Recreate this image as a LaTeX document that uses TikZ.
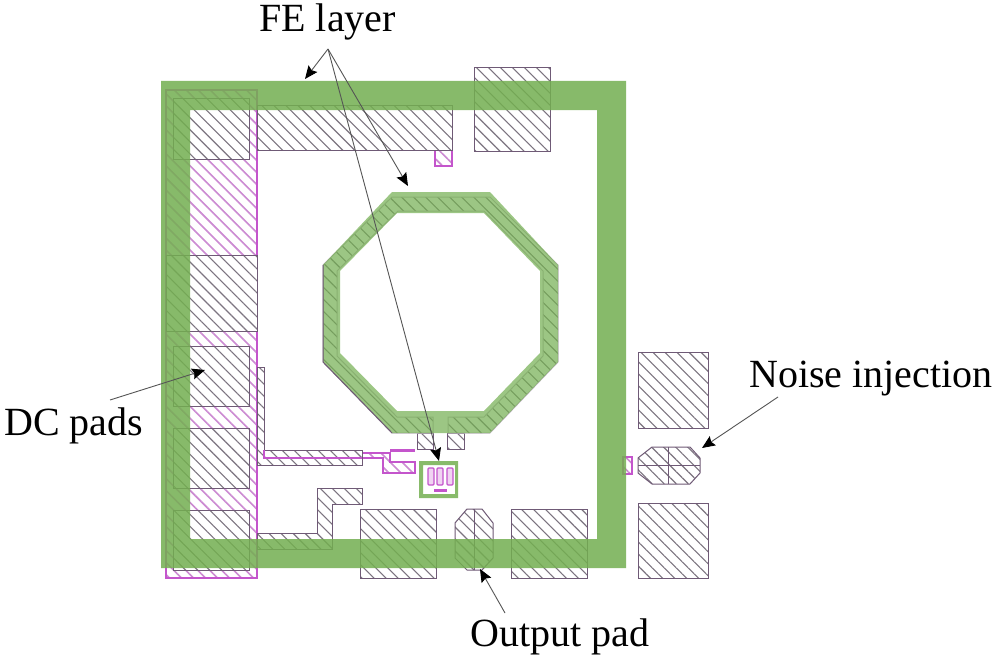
\documentclass[tikz,border=0pt]{standalone}
\usepackage{fontspec}
\setmainfont{Liberation Serif}
\usetikzlibrary{patterns.meta, arrows.meta}
\definecolor{padline}{HTML}{6F5A76}
\definecolor{padhatch}{HTML}{7C7480}
\definecolor{magline}{HTML}{C455CC}
\definecolor{maghatch}{HTML}{CC8AD2}
\definecolor{felayer}{HTML}{73AF50}
\definecolor{arrowline}{HTML}{555555}
\tikzset{x=1pt, y=-1pt,
    hatchbox/.style={draw=padline, line width=1pt, preaction={fill=white}, pattern={Lines[angle=-45, distance=8.5pt, line width=1.1pt]}, pattern color=padhatch},
    maghatchbox/.style={draw=magline, line width=1.1pt, preaction={fill=white}, pattern={Lines[angle=-45, distance=8.5pt, line width=1.6pt]}, pattern color=maghatch},
    magbox/.style={draw=magline, line width=1.2pt, fill=magline!25, rounded corners=1pt},
    frame/.style={fill=felayer, fill opacity=0.85, even odd rule},
    ring/.style={fill=felayer, fill opacity=0.7, even odd rule},
    pointer/.style={-{Stealth[length=13pt, width=11pt, inset=2pt, black]}, draw=arrowline, line width=0.9pt},
    caption/.style={anchor=base west, inner sep=0pt, font=\fontsize{40}{44}\selectfont}
}

\begin{document}
\begin{tikzpicture}
        \fill[white] (0,0) rectangle (999,661);
        \useasboundingbox (0,0) rectangle (999,661);

        \draw[maghatchbox] (166,90) rectangle (257,578);
        \draw[maghatchbox] (435,150) rectangle (452,166);
        \draw[maghatchbox] (362,453) -- (390,453) -- (390,462) -- (415,462) -- (415,473) -- (383,473) -- (383,458) -- (362,458) -- cycle;
        \draw[maghatchbox] (623,457) rectangle (632,474);
        \draw[hatchbox] (173,98) rectangle (249,159);
        \draw[hatchbox] (166,255) rectangle (257,331);
        \foreach \padtop in {346,428,510}
            \draw[hatchbox] (173,\padtop) rectangle (249,\padtop+60);
        \draw[hatchbox] (257,105) rectangle (452,150);
        \draw[hatchbox] (474,68) rectangle (550,151);
        \draw[hatchbox] (257,367) -- (264,367) -- (264,450) -- (362,450) -- (362,465) -- (257,465) -- cycle;
        \draw[magline, line width=1.1pt] (264,450) -- (264,458) -- (362,458);
        \draw[hatchbox] (317,488) -- (362,488) -- (362,504) -- (332,504) -- (332,549) -- (257,549) -- (257,533) -- (317,533) -- cycle;
        \foreach \padleft in {360,511}
            \draw[hatchbox] (\padleft,509) rectangle (\padleft+76,578);
        \draw[hatchbox] (638,352) rectangle (708,428);
        \draw[hatchbox] (638,503) rectangle (708,578);

        \draw[hatchbox] (467,509) -- (482,509) -- (493,523) -- (493,558) -- (482,570) -- (467,570) -- (455,558) -- (455,523) -- cycle;
        \draw[padline, line width=1pt] (474,509) -- (474,570);
        \draw[hatchbox] (652,447) -- (690,447) -- (700,458) -- (700,473) -- (690,484) -- (652,484) -- (638,473) -- (638,458) -- cycle;
        \draw[padline, line width=1pt] (668,447) -- (668,484);
        \draw[padline, line width=1pt] (638,465) -- (700,465);

        \draw[hatchbox] (417,433) rectangle (433,449);
        \draw[hatchbox] (447,433) rectangle (464,449);
        \draw[hatchbox, draw=padline!45] (433,433) -- (433,417) -- (397,417) -- (337,356) -- (337,271) -- (398,211) -- (484,211) -- (543,271) -- (543,356) -- (484,417) -- (448,417) -- (448,433) -- (490,433) -- (558,362) -- (558,265) -- (490,197) -- (392,197) -- (323,265) -- (323,362) -- (392,433) -- cycle;

        \fill[magline] (390,449) rectangle (415,452);
        \draw[magbox] (428,468) rectangle (434,485);
        \draw[magbox] (437,468) rectangle (443,485);
        \draw[magbox] (447,468) rectangle (453,485);
        \fill[magline] (434,489) rectangle (447,491.5);

        \fill[ring] (392,192) -- (490,192) -- (558,265) -- (558,362) -- (490,433) -- (392,433) -- (323,362) -- (323,265) -- cycle
            (397,213) -- (484,213) -- (540,271) -- (540,353) -- (484,411) -- (397,411) -- (340,353) -- (340,271) -- cycle;
        \draw[padline, line width=1pt] (323,265) -- (323,362) -- (392,433);
        \fill[frame] (161,81) rectangle (626,568) (190,110) rectangle (597,539);
        \fill[felayer!85!white, even odd rule] (419,461) rectangle (458,498) (423,465) rectangle (455,494);

        \node[caption] (felabel) at (259,32) {FE layer};
        \node[caption] (dclabel) at (4,435) {DC pads};
        \node[caption] (noiselabel) at (749,387) {Noise injection};
        \node[caption] (outputlabel) at (470,646) {Output pad};

        \coordinate (fesplit) at (328,49);
        \coordinate (fetop) at (305,79);
        \coordinate (fering) at (408,186);
        \coordinate (fecell) at (439,461);
        \coordinate (dctail) at (110,400);
        \coordinate (dctip) at (205,370);
        \coordinate (noisetail) at (778,397);
        \coordinate (noisetip) at (702,448);
        \coordinate (outputtail) at (505,613);
        \coordinate (outputtip) at (480,569);

        \draw[pointer] (fesplit) -- (fetop);
        \draw[pointer] (fesplit) -- (fering);
        \draw[pointer] (fesplit) -- (fecell);
        \draw[pointer] (dctail) -- (dctip);
        \draw[pointer] (noisetail) -- (noisetip);
        \draw[pointer] (outputtail) -- (outputtip);
    \end{tikzpicture}
\end{document}
